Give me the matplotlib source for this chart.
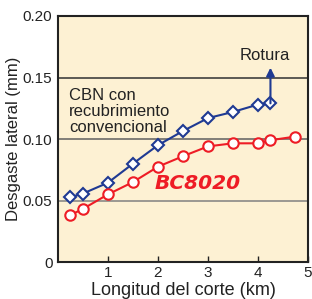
import matplotlib
matplotlib.use('Agg')
import matplotlib.pyplot as plt

plt.rcParams['font.family'] = ['Liberation Sans', 'DejaVu Sans']

# datos
x_cbn = [0.24, 0.49, 1.0, 1.5, 2.0, 2.5, 3.0, 3.5, 4.0, 4.25]
y_cbn = [0.0526, 0.0555, 0.0645, 0.080, 0.095, 0.1065, 0.117, 0.122, 0.128, 0.129]
x_bc = [0.24, 0.49, 1.0, 1.5, 2.0, 2.5, 3.0, 3.5, 4.0, 4.25, 4.75]
y_bc = [0.038, 0.043, 0.055, 0.065, 0.0775, 0.086, 0.094, 0.0965, 0.0965, 0.099, 0.102]
rotura_top = 0.158
xticks = [1, 2, 3, 4, 5]
yticks = [0, 0.05, 0.10, 0.15, 0.20]
yticklabels = ['0', '0.05', '0.10', '0.15', '0.20']

fig = plt.figure(figsize=(3.12, 2.99), dpi=100)
ax = fig.add_axes([0.186, 0.1237, 0.801, 0.8228])
ax.set_facecolor('#fdf1d3')

for y, c in [(0.05, '#808080'), (0.10, '#606060'), (0.15, '#303030')]:
    ax.axhline(y, color=c, lw=1.1, zorder=1)

blue = '#1f3a93'
red = '#ee1c25'
ax.plot(x_cbn, y_cbn, color=blue, lw=1.5, marker='D', ms=6,
        mfc='white', mec=blue, mew=1.5, zorder=3)
ax.plot(x_bc, y_bc, color=red, lw=1.5, marker='o', ms=7.5,
        mfc='white', mec=red, mew=1.5, zorder=3)

ax.annotate('', xy=(x_cbn[-1], rotura_top), xytext=(x_cbn[-1], y_cbn[-1]),
            arrowprops=dict(arrowstyle='-|>', color=blue, lw=1.5,
                            mutation_scale=12, shrinkA=0, shrinkB=0), zorder=4)
ax.text(4.14, 0.168, 'Rotura', ha='center', va='center', fontsize=12, color='#222222')
ax.text(0.22, 0.1225, 'CBN con\nrecubrimiento\nconvencional', ha='left', va='center',
        fontsize=12, color='#222222', linespacing=1.1)
ax.text(1.93, 0.064, 'BC8020', ha='left', va='center', fontsize=14.5,
        fontweight='bold', fontstyle='italic', color=red, family=['DejaVu Sans'])

ax.set_xlim(0, 5)
ax.set_ylim(0, 0.20)
ax.set_xticks(xticks)
ax.set_yticks(yticks)
ax.set_yticklabels(yticklabels)
ax.tick_params(axis='x', direction='in', length=4, width=1, labelsize=11, pad=3, colors='#222222')
ax.tick_params(axis='y', length=0, labelsize=11, pad=4, colors='#222222')
for s in ax.spines.values():
    s.set_linewidth(1.5)
    s.set_color('#222222')

ax.set_xlabel('Longitud del corte (km)', fontsize=13, color='#222222', labelpad=1)
ax.set_ylabel('Desgaste lateral (mm)', fontsize=12, color='#222222', labelpad=1)

fig.savefig('out.png', dpi=100)
